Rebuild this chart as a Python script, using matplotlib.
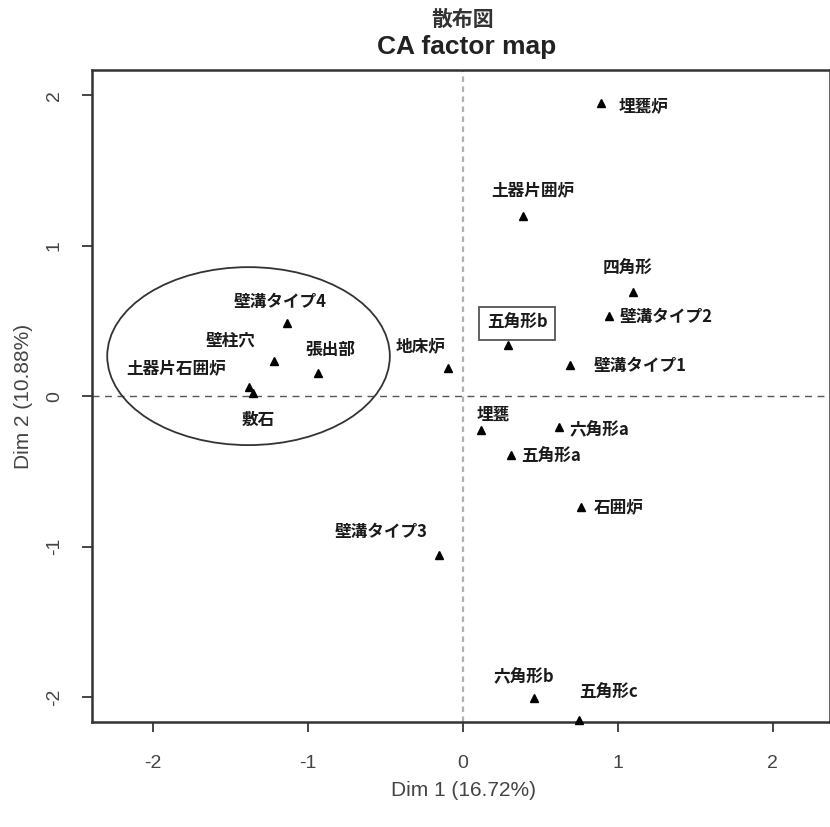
import matplotlib
matplotlib.use("Agg")
import matplotlib.pyplot as plt
from matplotlib.patches import Ellipse

plt.rcParams['axes.unicode_minus'] = False
plt.rcParams['font.family'] = ['Liberation Sans', 'Noto Sans CJK JP', 'DejaVu Sans']

labels = ['埋甕炉', '土器片囲炉', '四角形', '壁溝タイプ2', '五角形b', '壁溝タイプ1', '地床炉',
          '埋甕', '六角形a', '五角形a', '石囲炉', '壁溝タイプ3', '六角形b', '五角形c',
          '壁溝タイプ4', '壁柱穴', '張出部', '土器片石囲炉', '敷石']
dim1 = [0.893, 0.388, 1.100, 0.945, 0.291, 0.693, -0.097,
        0.117, 0.621, 0.311, 0.764, -0.155, 0.460, 0.750,
        -1.139, -1.223, -0.939, -1.385, -1.359]
dim2 = [1.947, 1.196, 0.691, 0.531, 0.339, 0.206, 0.186,
        -0.226, -0.206, -0.392, -0.738, -1.057, -2.007, -2.153,
        0.485, 0.233, 0.153, 0.060, 0.020]

# label placement (pixel offsets from point, and alignment)
offsets = {
    '埋甕炉': (17, -3, 'left'), '土器片囲炉': (10, 26, 'center'), '四角形': (-6, 23, 'center'),
    '壁溝タイプ2': (10, -1, 'left'), '五角形b': (9, 22, 'center'), '壁溝タイプ1': (23, -1, 'left'),
    '地床炉': (-27, 22, 'center'), '埋甕': (12, 15, 'center'), '六角形a': (10, -3, 'left'),
    '五角形a': (10, -2, 'left'), '石囲炉': (12, 0, 'left'), '壁溝タイプ3': (-58, 23, 'center'),
    '六角形b': (-10, 21, 'center'), '五角形c': (29, 27, 'center'), '壁溝タイプ4': (-6, 21, 'center'),
    '壁柱穴': (-43, 21, 'center'), '張出部': (13, 23, 'center'), '土器片石囲炉': (-72, 19, 'center'),
    '敷石': (6, -27, 'center'),
}

fig = plt.figure(figsize=(8.3, 8.27), dpi=100)
ax = fig.add_axes([0.111, 0.127, 0.889, 0.788])
ax.set_xlim(-2.395, 2.37)
ax.set_ylim(-2.166, 2.166)

ax.axvline(0, color='#b0b0b0', lw=1.6, ls=(0, (2.5, 2)), zorder=1)
ax.axhline(0, color='#555555', lw=1.0, ls=(0, (5, 4)), zorder=1)

ax.plot(dim1, dim2, ls='none', marker='^', color='black', ms=6, zorder=3, clip_on=False)

for lab, x, y in zip(labels, dim1, dim2):
    dx, dy, ha = offsets[lab]
    kw = {}
    if lab == '五角形b':
        kw['bbox'] = dict(boxstyle='square,pad=0.45', fc='white', ec='#555555', lw=1.3)
    ax.annotate(lab, (x, y), xytext=(dx * 0.72, dy * 0.72), textcoords='offset points',
                ha=ha, va='center', fontsize=12, fontweight='bold',
                family=['Noto Sans CJK JP', 'DejaVu Sans'], color='#1a1a1a', **kw)

ell = Ellipse((-1.385, 0.266), 1.825, 1.183, fill=False, ec='#333333', lw=1.3, zorder=2)
ax.add_patch(ell)

ax.set_xticks([-2, -1, 0, 1, 2])
ax.set_yticks([-2, -1, 0, 1, 2])
ax.tick_params(axis='both', length=7, width=1.4, color='#444444', labelsize=14,
               labelcolor='#444444')
ax.tick_params(axis='x', pad=17)
ax.tick_params(axis='y', pad=14)
for t in ax.get_yticklabels():
    t.set_rotation(90)
    t.set_va('center')
for sp in ax.spines.values():
    sp.set_linewidth(1.8)
    sp.set_color('#333333')

ax.set_xlabel('Dim 1 (16.72%)', fontsize=15, color='#444444', va='center')
ax.xaxis.set_label_coords(0.503, -0.105)
ax.set_ylabel('Dim 2 (10.88%)', fontsize=15, color='#444444', va='center')
ax.yaxis.set_label_coords(-0.093, 0.5)

fig.text(0.557, 0.977, '散布図', ha='center', va='center', fontsize=15, fontweight='bold',
         family=['Noto Sans CJK JP', 'DejaVu Sans'], color='#333333')
fig.text(0.562, 0.943, 'CA factor map', ha='center', va='center', fontsize=19, fontweight='bold',
         color='#222222')

fig.savefig('out.png', dpi=100)
